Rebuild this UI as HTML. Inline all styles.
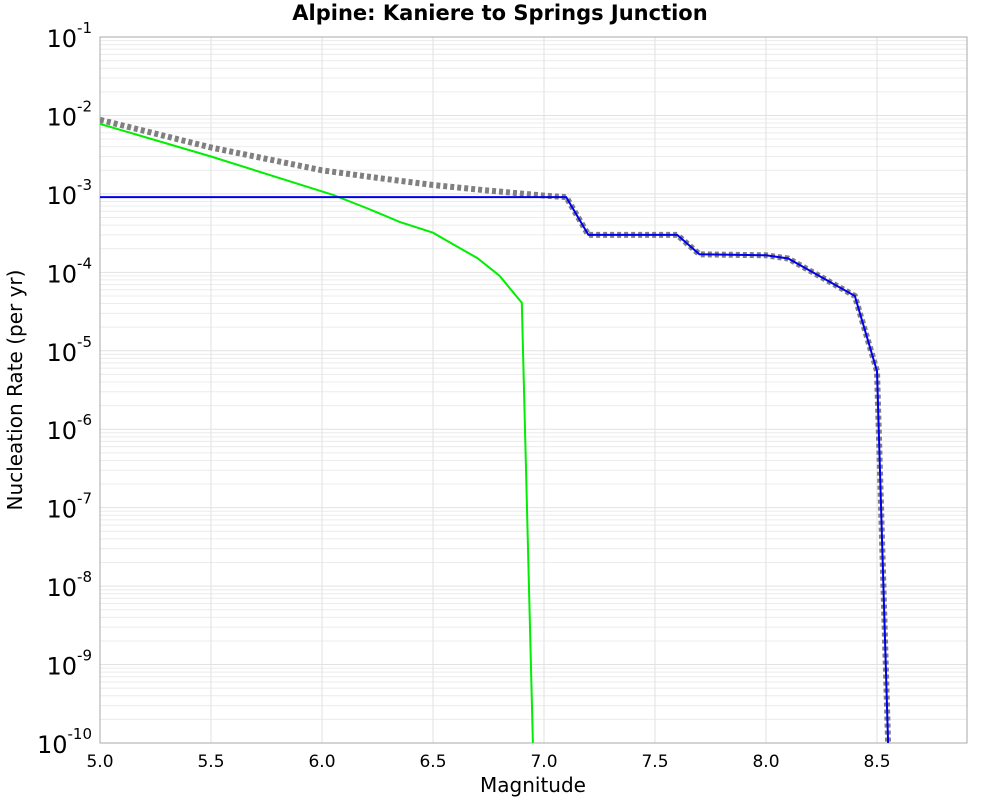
<!DOCTYPE html>
<html><head><meta charset="utf-8"><style>
body{margin:0;background:#fff;font-family:"Liberation Sans","DejaVu Sans",sans-serif}
svg text{font-family:"DejaVu Sans","Liberation Sans",sans-serif}
</style></head><body>
<svg id="chart" width="1000" height="800" xmlns="http://www.w3.org/2000/svg">
<text x="500" y="20" text-anchor="middle" font-size="21" font-weight="bold">Alpine: Kaniere to Springs Junction</text>
<text x="533" y="792" text-anchor="middle" font-size="20">Magnitude</text>
<text transform="translate(22,390) rotate(-90)" text-anchor="middle" font-size="20">Nucleation Rate (per yr)</text>
<g id="grid"></g>
<g id="axes"></g>
<g id="series"></g>
</svg>
<script>
const xTicks=[5.0,5.5,6.0,6.5,7.0,7.5,8.0,8.5];
const yDecades=[-1,-2,-3,-4,-5,-6,-7,-8,-9,-10];
const blueX=[5.0,7.1,7.2,7.6,7.7,8.0,8.1,8.4,8.5,8.55];
const blueY=[9.1e-4,9.1e-4,3.0e-4,3.0e-4,1.7e-4,1.65e-4,1.5e-4,5.0e-5,5.5e-6,1e-10];
const greenX=[5.0,5.5,6.05,6.2,6.35,6.5,6.6,6.7,6.8,6.9,6.95];
const greenY=[7.8e-3,3.0e-3,9.7e-4,6.6e-4,4.4e-4,3.2e-4,2.2e-4,1.52e-4,9.0e-5,4.1e-5,1e-10];
const grayX=[5.0,5.5,6.0,6.25,6.5,6.75,7.0,7.1,7.2,7.6,7.7,8.0,8.1,8.4,8.5,8.55];
const grayY=[8.8e-3,3.9e-3,2.0e-3,1.6e-3,1.3e-3,1.1e-3,9.5e-4,9.1e-4,3.0e-4,3.0e-4,1.7e-4,1.65e-4,1.5e-4,5.0e-5,5.5e-6,1e-10];

const L=100,R=967,T=37,B=743,NS="http://www.w3.org/2000/svg";
const xs=v=>L+(v-5)*222;
const ys=v=>T+(-1-Math.log10(v))*(B-T)/9;
function mk(tag,attrs,parent){const e=document.createElementNS(NS,tag);for(const k in attrs)e.setAttribute(k,attrs[k]);parent.appendChild(e);return e;}
const grid=document.getElementById('grid'),axes=document.getElementById('axes'),ser=document.getElementById('series');
for(const d of yDecades){
  if(d>-10){for(let m=2;m<=9;m++){const y=ys(m*Math.pow(10,d-1));
    const ln=mk('line',{x1:L,x2:R,y1:y,y2:y,stroke:'#ececec','stroke-width':1},grid);
    
    }}
  const y=ys(Math.pow(10,d));
  const g=mk('line',{x1:L,x2:R,y1:y,y2:y,stroke:'#e2e2e2','stroke-width':1},grid);
  
  
  const t=mk('text',{x:L-8,y:y+10,'text-anchor':'end','font-size':24},axes);
  
  
  t.textContent='10';
  const s=mk('tspan',{dy:-14,'font-size':15},t);s.textContent=String(d);
}
for(const v of xTicks){const x=xs(v);
  const g=mk('line',{x1:x,x2:x,y1:T,y2:B,stroke:'#e2e2e2','stroke-width':1},grid);
  
  
  const t=mk('text',{x:x,y:767,'text-anchor':'middle','font-size':17},axes);
  
  
  t.textContent=v.toFixed(1);
}
const frame=mk('rect',{x:L,y:T,width:R-L,height:B-T,fill:'none',stroke:'#aaa','stroke-width':1},axes);


const cp=mk('clipPath',{id:'clip'},ser);
mk('rect',{x:L,y:T,width:R-L,height:B-T},cp);
function pts(X,Y){return X.map((x,i)=>xs(x).toFixed(1)+','+ys(Y[i]).toFixed(1)).join(' ');}
const pg=mk('polyline',{points:pts(greenX,greenY),fill:'none',stroke:'#00ee00','stroke-width':2,'clip-path':'url(#clip)'},ser);


const pgr=mk('polyline',{points:pts(grayX,grayY),fill:'none',stroke:'#808080','stroke-width':6,'stroke-dasharray':'4,3','clip-path':'url(#clip)'},ser);


const pb=mk('polyline',{points:pts(blueX,blueY),fill:'none',stroke:'#0000ee','stroke-width':2,'clip-path':'url(#clip)'},ser);


</script>
</body></html>
